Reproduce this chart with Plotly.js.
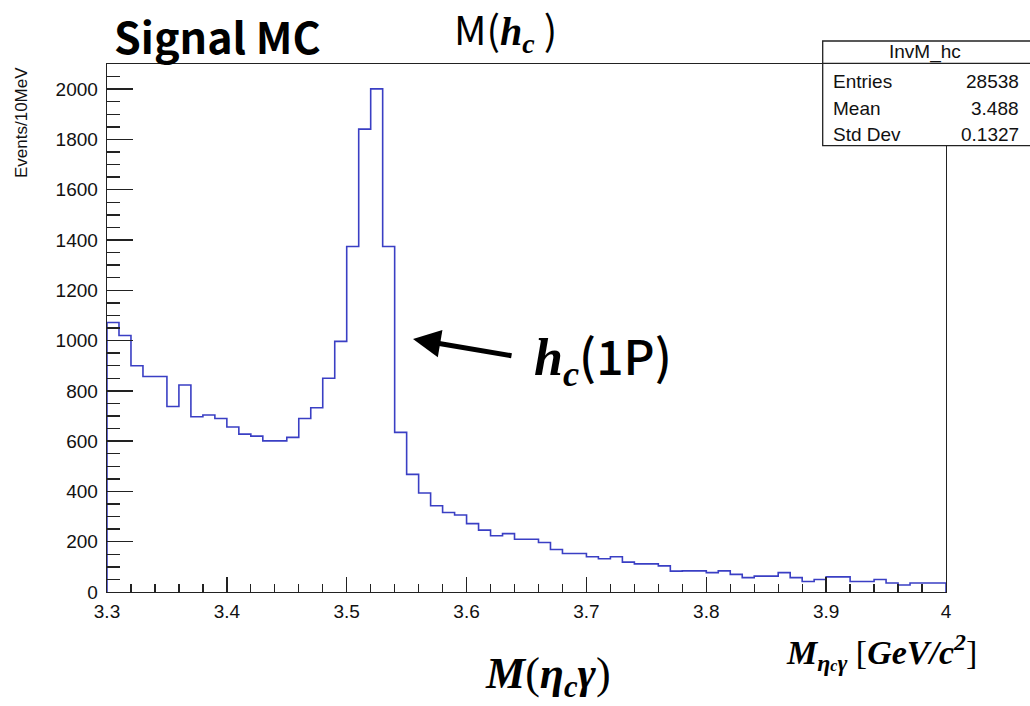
<!DOCTYPE html>
<html>
<head>
<meta charset="utf-8">
<script src="https://cdn.plot.ly/plotly-3.0.1.min.js"></script>
<style>html,body{margin:0;padding:0;background:#fff;}#chart{width:1030px;height:706px;}</style>
</head>
<body>
<div id="chart"></div>
<script>
// ---- data ----
const histName = "InvM_hc";
const xMin = 3.30;
const xMax = 4.00;
const binWidth = 0.01;
const counts = [1072,1020,900,857,857,738,823,697,704,690,
                656,628,620,601,601,615,690,733,850,997,
                1374,1841,2001,1374,635,468,394,343,316,306,
                272,246,224,232,210,210,197,169,153,153,
                140,132,140,119,112,112,104,83,84,84,
                77,84,70,57,63,63,77,57,42,50,
                60,60,42,42,50,36,28,36,36,36];
const statLabels = ["Entries", "Mean", "Std Dev"];
const statValues = ["28538", "3.488", "0.1327"];
const xTickVals = [3.3, 3.4, 3.5, 3.6, 3.7, 3.8, 3.9, 4.0];
const xTickText = ["3.3", "3.4", "3.5", "3.6", "3.7", "3.8", "3.9", "4"];
const yTickVals = [0, 200, 400, 600, 800, 1000, 1200, 1400, 1600, 1800, 2000];

// ---- histogram outline from bin edges ----
const xs = [xMin], ys = [0];
for (let i = 0; i < counts.length; i++) {
  xs.push(+(xMin + i * binWidth).toFixed(4));
  ys.push(counts[i]);
}
xs.push(xMax); ys.push(counts[counts.length - 1]);
xs.push(xMax); ys.push(0);

// ---- layout helpers (pixel -> paper) ----
const L = 107, R = 946, T = 64, B = 592;
const px = x => (x - L) / (R - L);
const py = y => (B - y) / (B - T);

const axisCol = '#222';
const rootFont = {family: 'Liberation Sans, Arial, sans-serif', size: 19, color: '#111'};

const trace = {
  type: 'scatter', mode: 'lines', x: xs, y: ys,
  line: {shape: 'hv', color: '#3a3fc4', width: 1.6},
  hoverinfo: 'skip', showlegend: false
};

const annotations = [];
// y axis title
annotations.push({xref: 'paper', yref: 'paper', x: px(22), y: py(123), text: 'Events/10MeV',
  textangle: -90, showarrow: false, font: {family: rootFont.family, size: 17, color: '#111'},
  xanchor: 'center', yanchor: 'middle'});
// stats box text
annotations.push({xref: 'paper', yref: 'paper', x: px(925), y: py(52), text: histName, showarrow: false,
  font: rootFont, xanchor: 'center', yanchor: 'middle'});
const rowY = [81, 108, 134];
statLabels.forEach((s, i) => {
  annotations.push({xref: 'paper', yref: 'paper', x: px(831), y: py(rowY[i]), text: s, showarrow: false,
    font: rootFont, xanchor: 'left', yanchor: 'middle'});
  annotations.push({xref: 'paper', yref: 'paper', x: px(1021), y: py(rowY[i]), text: statValues[i], showarrow: false,
    font: rootFont, xanchor: 'right', yanchor: 'middle'});
});
// slide overlay texts
const jp = 'Noto Sans CJK JP, Noto Sans, sans-serif';
const serif = 'Liberation Serif, DejaVu Serif, serif';
annotations.push({xref: 'paper', yref: 'paper', x: px(112), y: py(35), text: '<b>Signal MC</b>', showarrow: false,
  font: {family: jp, size: 43, color: '#000'}, xanchor: 'left', yanchor: 'middle'});
annotations.push({xref: 'paper', yref: 'paper', x: px(453), y: py(-2), borderpad: 0,
  text: 'M(<span style="font-family:Liberation Serif"><b><i>h<sub>c</sub></i></b></span> )', showarrow: false,
  font: {family: jp, size: 40, color: '#000'}, xanchor: 'left', yanchor: 'top'});
annotations.push({xref: 'paper', yref: 'paper', x: px(532), y: py(356),
  text: '<span style="font-family:Liberation Serif;font-size:52px"><b><i>h<sub>c</sub></i></b></span>(1P)', showarrow: false,
  font: {family: jp, size: 48, color: '#000', weight: 500}, xanchor: 'left', yanchor: 'middle'});
// arrow
annotations.push({xref: 'paper', yref: 'paper', x: px(413), y: py(339), text: '',
  showarrow: true, axref: 'pixel', ayref: 'pixel', ax: 100, ay: 17,
  arrowhead: 2, arrowsize: 1.1, arrowwidth: 5, arrowcolor: '#000', standoff: 0});
annotations.push({xref: 'paper', yref: 'paper', x: px(548), y: py(676),
  text: '<b><i>M</i></b>(<b><i>η<sub>c</sub>γ</i></b>)', showarrow: false,
  font: {family: serif, size: 44, color: '#000'}, xanchor: 'center', yanchor: 'middle'});
annotations.push({xref: 'paper', yref: 'paper', x: px(881), y: py(652),
  text: '<b><i>M</i></b><sub><b><i>η<span style="font-size:16px">c</span>γ</i></b></sub> [<b><i>GeV/c<sup>2</sup></i></b>]', showarrow: false,
  font: {family: serif, size: 34, color: '#000'}, xanchor: 'center', yanchor: 'middle'});

const shapes = [
  {type: 'rect', xref: 'paper', yref: 'paper', x0: px(822.7), x1: px(1050), y0: py(145.7), y1: py(41),
   fillcolor: '#fff', line: {color: axisCol, width: 1.3}, layer: 'above'},
  {type: 'line', xref: 'paper', yref: 'paper', x0: px(822.7), x1: px(1050), y0: py(63.3), y1: py(63.3),
   line: {color: axisCol, width: 1.3}, layer: 'above'}
];

const layout = {
  width: 1030, height: 706,
  margin: {l: L, r: 1030 - R, t: T, b: 706 - B, pad: 0},
  paper_bgcolor: '#fff', plot_bgcolor: '#fff',
  showlegend: false,
  xaxis: {
    range: [xMin, xMax], tickmode: 'array', tickvals: xTickVals, ticktext: xTickText,
    ticks: 'inside', ticklen: 15, tickwidth: 1.3, tickcolor: axisCol,
    minor: {dtick: 0.02, tick0: xMin, ticks: 'inside', ticklen: 8, tickwidth: 1.3, tickcolor: axisCol, showgrid: false},
    showline: true, linecolor: axisCol, linewidth: 1.3, mirror: true,
    showgrid: false, zeroline: false, tickfont: rootFont, ticklabelstandoff: 2, fixedrange: true
  },
  yaxis: {
    range: [0, 2100], tickmode: 'array', tickvals: yTickVals,
    ticks: 'inside', ticklen: 26, tickwidth: 1.3, tickcolor: axisCol,
    minor: {dtick: 50, tick0: 0, ticks: 'inside', ticklen: 13, tickwidth: 1.3, tickcolor: axisCol, showgrid: false},
    showline: true, linecolor: axisCol, linewidth: 1.3, mirror: true,
    showgrid: false, zeroline: false, tickfont: rootFont, ticklabelstandoff: 4, fixedrange: true
  },
  annotations: annotations,
  shapes: shapes
};

Plotly.newPlot('chart', [trace], layout, {displayModeBar: false, staticPlot: true});
</script>
</body>
</html>
